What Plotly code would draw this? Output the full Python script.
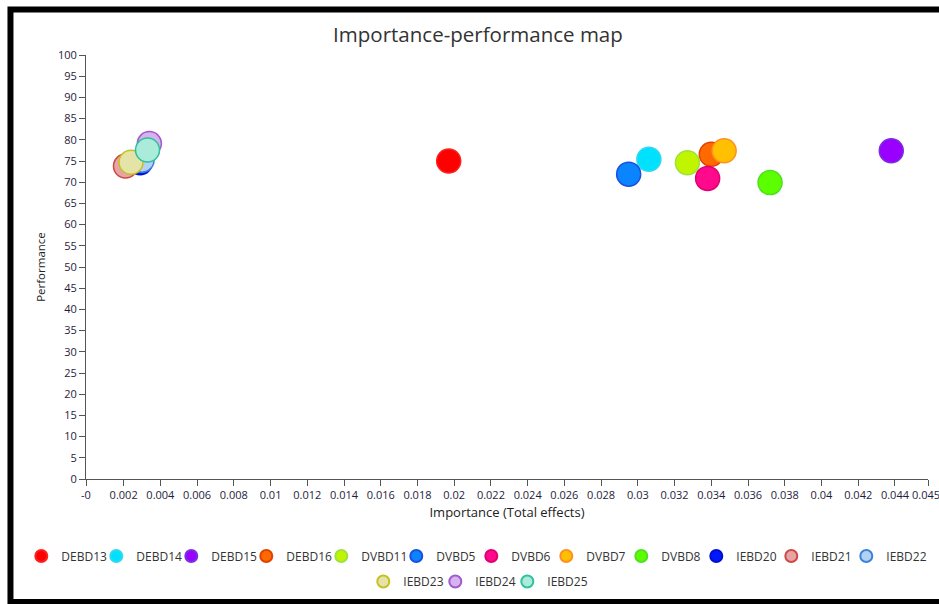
import plotly.graph_objects as go

# Constructs shown on the importance-performance map
constructs = ["DEBD13", "DEBD14", "DEBD15", "DEBD16", "DVBD11", "DVBD5", "DVBD6",
              "DVBD7", "DVBD8", "IEBD20", "IEBD21", "IEBD22", "IEBD23", "IEBD24", "IEBD25"]
importance = [0.0197, 0.0306, 0.0438, 0.0340, 0.0327, 0.0295, 0.0338,
              0.0347, 0.0372, 0.0029, 0.0021, 0.0030, 0.0024, 0.0034, 0.0033]
performance = [75.0, 75.4, 77.4, 76.6, 74.6, 71.9, 70.9,
               77.4, 69.9, 74.6, 73.8, 75.2, 74.7, 79.1, 77.6]

fill_colors = ["#ff0000", "#00e1ff", "#9900ff", "#ff6a00", "#c0f500", "#0a84ff", "#ff0a8c",
               "#ffc000", "#5cff00", "#0018ff", "#e6a4a4", "#b3d2f2", "#e4e4a8", "#d7b2ec", "#abebd9"]
edge_colors = ["#ff2020", "#30d8f0", "#7a30e0", "#e04000", "#a0e040", "#1a50e0", "#e00070",
               "#ff9020", "#50e020", "#0010d0", "#d04848", "#3b82e0", "#c8c020", "#a05ad0", "#30c0a0"]

# Axis ticks (the axis end label is placed separately so it stays inside the page)
x_min, x_max = -0.00005, 0.0458
x_end_label = "0.045"
x_tickvals = [x_min] + [round(0.002 * i, 3) for i in range(1, 23)] + [x_max]
x_ticktext = ["-0"] + [f"{0.002 * i:g}" for i in range(1, 23)] + [""]
y_tickvals = list(range(0, 101, 5))

W, H = 939, 604
M_L, M_R, M_T, M_B = 86, 11, 55, 125
plot_w = W - M_L - M_R

# Legend: one small legend per entry so the rows can be packed tightly
# (twelve entries on the upper row, three centred on the lower row).
first_row = 12
row1_start, row1_pitch, row1_y = 41.3, 75.0, 556
row2_start, row2_pitch, row2_y = 383.3, 72.0, 581.5
symbol_offset = 20  # distance from a legend's left edge to its symbol centre


def legend_position(i):
    if i < first_row:
        cx, cy = row1_start + i * row1_pitch, row1_y
    else:
        cx, cy = row2_start + (i - first_row) * row2_pitch, row2_y
    return (cx - symbol_offset) / W, 1 - cy / H


fig = go.Figure()
legend_layouts = {}
for i, (name, xv, yv, fc, ec) in enumerate(zip(constructs, importance, performance,
                                               fill_colors, edge_colors)):
    key = "legend" if i == 0 else f"legend{i + 1}"
    fig.add_trace(go.Scatter(
        x=[xv], y=[yv], mode="markers", name=name, legend=key,
        marker=dict(size=24, color=fc, line=dict(color=ec, width=1.5)),
    ))
    lx, ly = legend_position(i)
    legend_layouts[key] = dict(
        x=lx, y=ly, xref="container", yref="container",
        xanchor="left", yanchor="middle", orientation="h",
        bgcolor="rgba(0,0,0,0)", font=dict(size=12, color="#333"),
        itemsizing="constant",
    )

axis_font = dict(family="Open Sans, sans-serif", size=11, color="#1e1e3c")

fig.update_layout(
    width=W, height=H,
    margin=dict(l=M_L, r=M_R, t=M_T, b=M_B),
    paper_bgcolor="white", plot_bgcolor="white",
    font=dict(family="Open Sans, sans-serif", color="#222"),
    title=dict(text="Importance-performance map", x=0.509, xanchor="center", y=0.942,
               yanchor="middle", font=dict(size=20.5, color="#333")),
    xaxis=dict(range=[x_min, x_max], tickvals=x_tickvals, ticktext=x_ticktext,
               showgrid=False, zeroline=False, showline=True, linecolor="#555", linewidth=1,
               ticks="outside", ticklen=6, tickcolor="#555", tickfont=axis_font,
               automargin=False,
               title=dict(text="Importance (Total effects)", standoff=6,
                          font=dict(size=13, color="#222"))),
    yaxis=dict(range=[0, 100], tickvals=y_tickvals, showgrid=False, zeroline=False,
               showline=True, linecolor="#555", linewidth=1, ticks="outside", ticklen=6,
               tickcolor="#555", tickfont=axis_font, automargin=False,
               title=dict(text="Performance", standoff=9, font=dict(size=11.5, color="#222"))),
    showlegend=True,
    **legend_layouts,
)

# Label for the axis end tick, right-aligned just inside the page edge
fig.add_annotation(x=(W - 1 - M_L) / plot_w, xref="paper", xanchor="right",
                   xshift=4, y=0, yref="paper", yanchor="top", yshift=-6,
                   text=x_end_label, showarrow=False, font=axis_font)

# Black frame around the figure
fig.add_shape(type="rect", xref="paper", yref="paper",
              x0=-0.0897, y0=-0.290, x1=1.03, y1=1.1073,
              line=dict(color="black", width=6))

fig.write_html("out.html")
